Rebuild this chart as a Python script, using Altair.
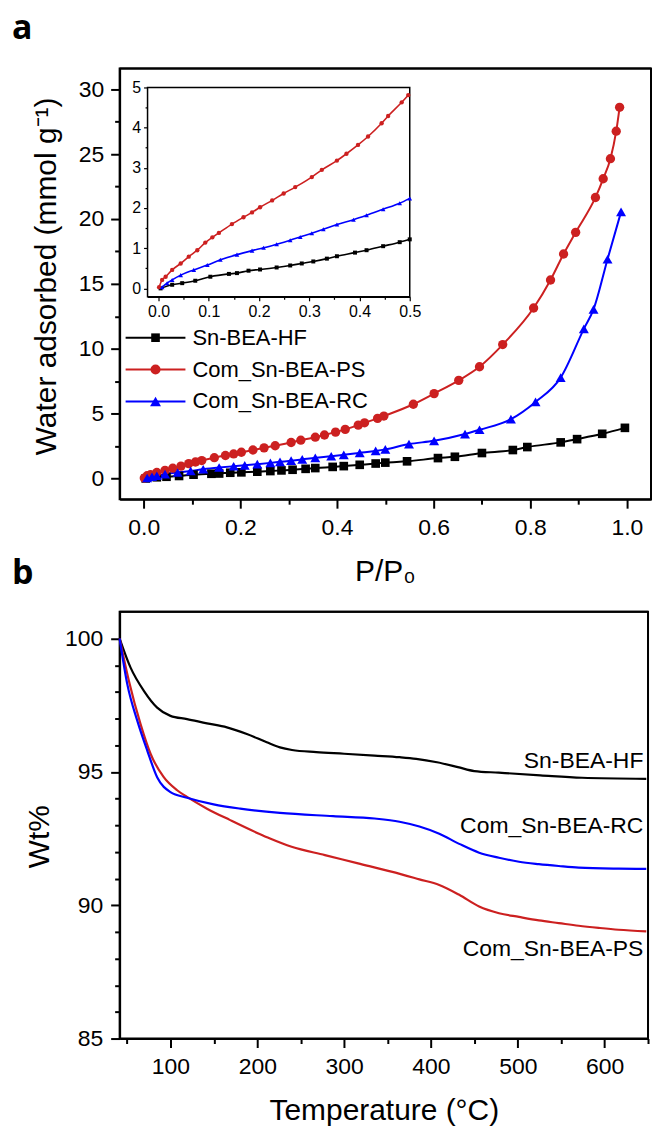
import altair as alt
import pandas as pd

FONT = "Liberation Sans"

# ---------------- data ----------------
names = ["Sn-BEA-HF", "Com_Sn-BEA-PS", "Com_Sn-BEA-RC"]
colors = ["#000000", "#CC2020", "#0000FF"]
shapes = ["square", "circle", "triangle-up"]

# (a) water adsorption isotherms: P/P0 and mmol g-1
hf_p = [0.004, 0.027, 0.047, 0.073, 0.103, 0.140, 0.156, 0.179, 0.202, 0.235, 0.262, 0.285,
        0.308, 0.335, 0.355, 0.391, 0.414, 0.447, 0.480, 0.500, 0.545, 0.609, 0.644, 0.700,
        0.764, 0.794, 0.863, 0.897, 0.949, 0.996]
hf_w = [0.00, 0.09, 0.13, 0.19, 0.29, 0.36, 0.38, 0.44, 0.47, 0.52, 0.57, 0.62,
        0.67, 0.74, 0.80, 0.89, 0.95, 1.05, 1.15, 1.22, 1.32, 1.57, 1.67, 1.96,
        2.19, 2.42, 2.78, 3.03, 3.44, 3.90]

ps_p = [0.001, 0.007, 0.014, 0.027, 0.044, 0.060, 0.077, 0.093, 0.107, 0.120, 0.146, 0.169,
        0.186, 0.202, 0.226, 0.249, 0.272, 0.305, 0.325, 0.355, 0.374, 0.397, 0.417, 0.444,
        0.457, 0.484, 0.497, 0.558, 0.601, 0.652, 0.695, 0.743, 0.807, 0.842, 0.869, 0.894,
        0.935, 0.951, 0.966, 0.978, 0.985]
ps_w = [0.03, 0.21, 0.29, 0.46, 0.62, 0.79, 0.95, 1.14, 1.27, 1.38, 1.60, 1.77,
        1.89, 2.02, 2.19, 2.36, 2.52, 2.77, 2.95, 3.18, 3.35, 3.57, 3.78, 4.11,
        4.29, 4.63, 4.81, 5.72, 6.54, 7.56, 8.61, 10.32, 13.14, 15.30, 17.30, 18.97,
        21.66, 23.10, 24.65, 26.77, 28.61]

rc_p = [0.007, 0.017, 0.027, 0.044, 0.070, 0.097, 0.123, 0.156, 0.186, 0.209, 0.235, 0.262,
        0.282, 0.305, 0.328, 0.355, 0.388, 0.414, 0.447, 0.480, 0.500, 0.549, 0.601, 0.665,
        0.695, 0.760, 0.811, 0.863, 0.911, 0.931, 0.960, 0.988]
rc_w = [0.03, 0.13, 0.21, 0.33, 0.46, 0.58, 0.71, 0.84, 0.94, 1.01, 1.10, 1.20,
        1.28, 1.37, 1.47, 1.59, 1.71, 1.82, 1.97, 2.12, 2.24, 2.65, 2.90, 3.42,
        3.75, 4.57, 5.90, 7.77, 11.53, 13.03, 16.90, 20.55]

# (b) TGA: temperature (C) and weight %
hf_t = [41.5, 54.1, 69.4, 84.7, 100.0, 119.1, 142.1, 165.0, 188.0, 210.9, 226.1, 240.0,
        268.0, 300.0, 335.0, 364.0, 383.0, 407.0, 431.0, 450.0, 478.0, 526.0, 574.0, 648.0]
hf_wt = [100.0, 98.91, 98.04, 97.41, 97.10, 96.98, 96.82, 96.67, 96.42, 96.11, 95.92, 95.82,
         95.74, 95.68, 95.61, 95.55, 95.49, 95.36, 95.18, 95.03, 94.97, 94.87, 94.78, 94.74]

rc_t = [41.5, 50.3, 61.8, 73.3, 84.7, 100.0, 119.1, 149.7, 180.3, 226.1, 287.3, 335.1,
        363.8, 386.7, 409.6, 432.6, 455.5, 478.4, 501.4, 524.3, 547.2, 570.2, 616.0, 648.0]
rc_wt = [100.0, 98.29, 96.92, 95.80, 94.80, 94.24, 94.03, 93.78, 93.62, 93.46, 93.34, 93.25,
         93.13, 92.95, 92.68, 92.30, 91.97, 91.78, 91.63, 91.54, 91.47, 91.41, 91.37, 91.36]

ps_t = [41.5, 52.2, 65.6, 77.1, 92.3, 107.7, 119.1, 142.1, 168.8, 201.3, 214.7, 239.6,
        277.9, 316.1, 354.4, 386.7, 409.6, 432.6, 455.5, 478.4, 501.4, 524.3, 547.2, 570.2,
        593.1, 616.0, 648.0]
ps_wt = [100.0, 98.41, 96.79, 95.68, 94.80, 94.31, 94.06, 93.62, 93.19, 92.69, 92.50, 92.19,
         91.88, 91.57, 91.26, 90.97, 90.76, 90.39, 89.95, 89.70, 89.56, 89.43, 89.33, 89.23,
         89.15, 89.08, 89.02]

# curve labels in panel b (data coordinates)
tga_label_t = [644.7, 644.7, 644.7]
tga_label_wt = [95.13, 88.08, 92.70]

# axis tick values
xa_ticks = [0.0, 0.1, 0.2, 0.3, 0.4, 0.5, 0.6, 0.7, 0.8, 0.9, 1.0]
ya_ticks = [0, 2.5, 5, 7.5, 10, 12.5, 15, 17.5, 20, 22.5, 25, 27.5, 30]
xi_ticks = [0.0, 0.05, 0.1, 0.15, 0.2, 0.25, 0.3, 0.35, 0.4, 0.45, 0.5]
yi_ticks = [0, 0.5, 1, 1.5, 2, 2.5, 3, 3.5, 4, 4.5, 5]
xb_ticks = [50, 100, 150, 200, 250, 300, 350, 400, 450, 500, 550, 600, 650]
yb_ticks = [85, 86, 87, 88, 89, 90, 91, 92, 93, 94, 95, 96, 97, 98, 99, 100]

# ---------------- tables ----------------
iso = pd.concat([
    pd.DataFrame({"p": hf_p, "w": hf_w, "series": names[0]}),
    pd.DataFrame({"p": ps_p, "w": ps_w, "series": names[1]}),
    pd.DataFrame({"p": rc_p, "w": rc_w, "series": names[2]}),
], ignore_index=True)
iso_in = iso[iso["p"] <= 0.5]

tga = pd.concat([
    pd.DataFrame({"t": hf_t, "wt": hf_wt, "series": names[0]}),
    pd.DataFrame({"t": ps_t, "wt": ps_wt, "series": names[1]}),
    pd.DataFrame({"t": rc_t, "wt": rc_wt, "series": names[2]}),
], ignore_index=True)
tga_lab = pd.DataFrame({"t": tga_label_t, "wt": tga_label_wt, "series": names})

one = pd.DataFrame({"k": [0]})

# ---------------- panel a ----------------
WA, HA = 533, 432
color = alt.Color("series:N", scale=alt.Scale(domain=names, range=colors), legend=None)
shape = alt.Shape("series:N", scale=alt.Scale(domain=names, range=shapes), legend=None)


def cond(test, big, small):
    return {"condition": {"test": test, "value": big}, "value": small}


def frame(w, h):
    top = alt.Chart(one).mark_rule(color="black", strokeWidth=2).encode(
        x=alt.value(0), x2=alt.value(w), y=alt.value(0))
    right = alt.Chart(one).mark_rule(color="black", strokeWidth=2).encode(
        x=alt.value(w), y=alt.value(0), y2=alt.value(h))
    return [top, right]


maj_xa = "abs(datum.value*5 - round(datum.value*5)) < 0.001"
ax_xa = alt.Axis(values=xa_ticks, format=".1f", labelExpr=f"({maj_xa}) ? datum.label : ''",
                 tickSize=cond(maj_xa, 9, 5), tickWidth=2, domainWidth=2,
                 labelFontSize=23, labelPadding=8, title="P/P₀", titleFontSize=30,
                 titleFontWeight="normal", titleX=266, titleY=82, titleAlign="center",
                 titleBaseline="alphabetic")
maj_ya = "datum.value % 5 === 0"
ax_ya = alt.Axis(values=ya_ticks, format=".0f", labelExpr=f"({maj_ya}) ? datum.label : ''",
                 tickSize=cond(maj_ya, 9, 5), tickWidth=2, domainWidth=2,
                 labelFontSize=23, labelPadding=7, title="Water adsorbed (mmol g⁻¹)",
                 titleFontSize=30, titleFontWeight="normal", titleAngle=270,
                 titleX=-64, titleY=208, titleAlign="center", titleBaseline="alphabetic")

xa = alt.X("p:Q", scale=alt.Scale(domain=[-0.05, 1.05], nice=False, zero=False), axis=ax_xa)
ya = alt.Y("w:Q", scale=alt.Scale(domain=[-1.6, 31.6], nice=False, zero=False), axis=ax_ya)

main_lines = alt.Chart(iso).mark_line(strokeWidth=2, interpolate="monotone").encode(
    x=xa, y=ya, color=color, detail="series:N")
main_pts = alt.Chart(iso).mark_point(filled=True, opacity=1).encode(
    x=xa, y=ya, color=color, shape=shape,
    size=alt.Size("series:N", scale=alt.Scale(domain=names, range=[75, 100, 120]), legend=None))
main_group = alt.layer(main_lines, main_pts)

# inset
xi_dom = [-0.022, 0.5]
yi_dom = [-0.21, 5.0]
maj_xi = "abs(datum.value*10 - round(datum.value*10)) < 0.001"
ax_xi = alt.Axis(orient="bottom", offset=-(HA - 229), values=xi_ticks, format=".1f",
                 labelExpr=f"({maj_xi}) ? datum.label : ''", tickSize=cond(maj_xi, 4, 2.5),
                 tickWidth=1.2, domainWidth=1.5, labelFontSize=16, labelPadding=3, title=None)
maj_yi = "datum.value % 1 === 0"
ax_yi = alt.Axis(orient="left", offset=-28, values=yi_ticks, format=".0f",
                 labelExpr=f"({maj_yi}) ? datum.label : ''", tickSize=cond(maj_yi, 4, 2.5),
                 tickWidth=1.2, domainWidth=1.5, labelFontSize=16, labelPadding=3, title=None)
sc_xi = alt.Scale(domain=xi_dom, range=[28, 291], nice=False, zero=False)
sc_yi = alt.Scale(domain=yi_dom, range=[229, 19], nice=False, zero=False)

box = pd.DataFrame({"x0": [xi_dom[0]], "x1": [xi_dom[1]], "y0": [yi_dom[0]], "y1": [yi_dom[1]]})
inset_box = alt.Chart(box).mark_rect(fill="white", stroke="black", strokeWidth=1.5).encode(
    x=alt.X("x0:Q", scale=sc_xi, axis=ax_xi), x2="x1:Q",
    y=alt.Y("y0:Q", scale=sc_yi, axis=ax_yi), y2="y1:Q")
inset_lines = alt.Chart(iso_in).mark_line(strokeWidth=1.6, interpolate="monotone").encode(
    x=alt.X("p:Q", scale=sc_xi, axis=ax_xi), y=alt.Y("w:Q", scale=sc_yi, axis=ax_yi),
    color=color, detail="series:N")
inset_pts = alt.Chart(iso_in).mark_point(filled=True, opacity=1).encode(
    x=alt.X("p:Q", scale=sc_xi, axis=ax_xi), y=alt.Y("w:Q", scale=sc_yi, axis=ax_yi),
    color=color, shape=shape,
    size=alt.Size("series:N", scale=alt.Scale(domain=names, range=[16, 22, 26]), legend=None))
inset_group = alt.layer(inset_box, inset_lines, inset_pts)

# legend (drawn by hand, upper-left of main panel)
leg_y = [270, 302, 334]
leg_size = [75, 100, 120]
leg_layers = []
for i, n in enumerate(names):
    d = pd.DataFrame({"series": [n]})
    leg_layers.append(alt.Chart(d).mark_rule(color=colors[i], strokeWidth=2).encode(
        x=alt.value(6), x2=alt.value(66), y=alt.value(leg_y[i])))
    leg_layers.append(alt.Chart(d).mark_point(filled=True, opacity=1, color=colors[i],
                                               shape=shapes[i], size=leg_size[i]).encode(
        x=alt.value(36), y=alt.value(leg_y[i])))
    leg_layers.append(alt.Chart(d).mark_text(align="left", baseline="middle", fontSize=22,
                                              font=FONT, color="black").encode(
        x=alt.value(73), y=alt.value(leg_y[i]), text="series:N"))

tag_a = alt.Chart(one).mark_text(text="a", font="Open Sans", fontWeight="bold", fontSize=34,
                                 align="left", baseline="alphabetic", color="black").encode(
    x=alt.value(-108), y=alt.value(-30))
tag_b = alt.Chart(one).mark_text(text="b", font="Open Sans", fontWeight="bold", fontSize=34,
                                 align="left", baseline="alphabetic", color="black").encode(
    x=alt.value(-108), y=alt.value(517))

panel_a = alt.layer(main_group, inset_group, *leg_layers, *frame(WA, HA), tag_a, tag_b
                    ).resolve_scale(x="independent", y="independent", size="independent"
                                    ).properties(width=WA, height=HA)

# ---------------- panel b ----------------
WB, HB = 530, 428
maj_xb = "datum.value % 100 === 0"
ax_xb = alt.Axis(values=xb_ticks, format=".0f", labelExpr=f"({maj_xb}) ? datum.label : ''",
                 tickSize=cond(maj_xb, 9, 5), tickWidth=2, domainWidth=2,
                 labelFontSize=23, labelPadding=8, title="Temperature (°C)", titleFontSize=30,
                 titleFontWeight="normal", titleX=265, titleY=81, titleAlign="center",
                 titleBaseline="alphabetic")
maj_yb = "datum.value % 5 === 0"
ax_yb = alt.Axis(values=yb_ticks, format=".0f", labelExpr=f"({maj_yb}) ? datum.label : ''",
                 tickSize=cond(maj_yb, 9, 5), tickWidth=2, domainWidth=2,
                 labelFontSize=23, labelPadding=8, title="Wt%", titleFontSize=30,
                 titleFontWeight="normal", titleAngle=270, titleX=-71, titleY=225,
                 titleAlign="center", titleBaseline="alphabetic")
xb = alt.X("t:Q", scale=alt.Scale(domain=[41.5, 650], nice=False, zero=False), axis=ax_xb)
yb = alt.Y("wt:Q", scale=alt.Scale(domain=[85, 101], nice=False, zero=False), axis=ax_yb)

tga_lines = alt.Chart(tga).mark_line(strokeWidth=2.2, interpolate="monotone").encode(
    x=xb, y=yb, color=color, detail="series:N")
tga_text = alt.Chart(tga_lab).mark_text(align="right", baseline="alphabetic", fontSize=23,
                                        font=FONT, color="black").encode(
    x=xb, y=yb, text="series:N")
panel_b = alt.layer(tga_lines, tga_text, *frame(WB, HB)).properties(width=WB, height=HB)

chart = alt.vconcat(panel_a, panel_b, spacing=18).properties(
    padding={"left": 11, "top": 9, "right": 0, "bottom": 0}
).configure(font=FONT).configure_view(stroke="black", strokeWidth=2).configure_axis(
    labelColor="black", tickColor="black", domainColor="black", titleColor="black",
    grid=False, labelFlush=False, labelOverlap=False, labelFont=FONT, titleFont=FONT)

chart.save("out.html", embed_options={"renderer": "svg", "actions": False})
